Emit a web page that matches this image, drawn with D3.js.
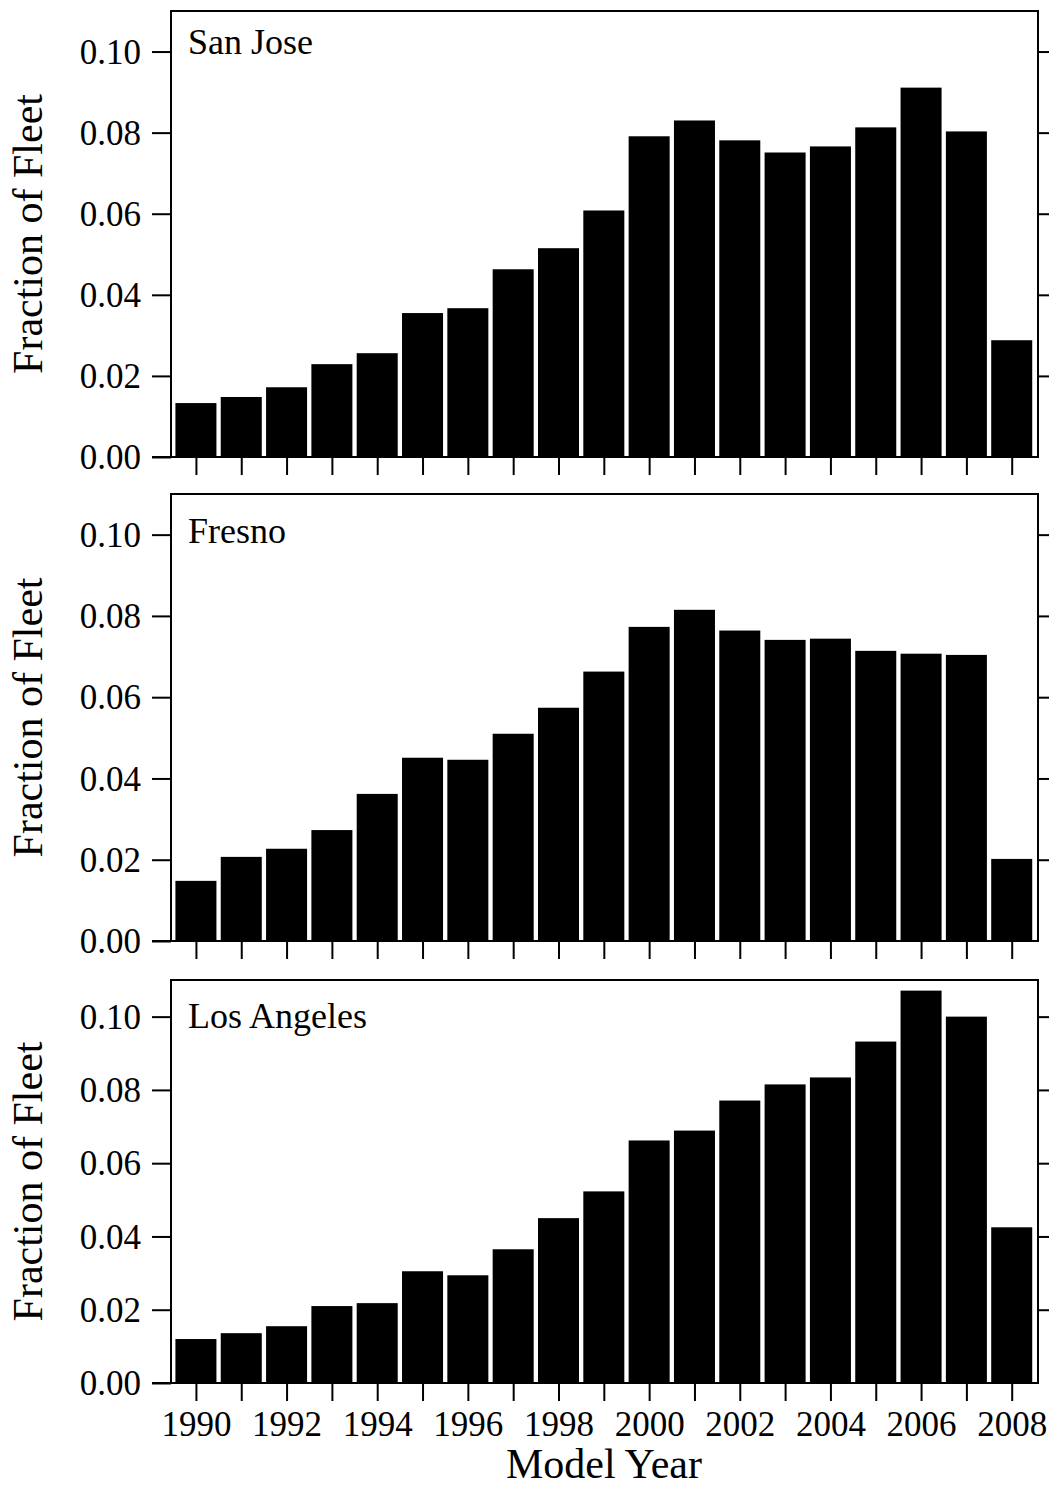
<!DOCTYPE html>
<html>
<head>
<meta charset="utf-8">
<script src="https://cdn.jsdelivr.net/npm/d3@7"></script>
<style>
  html, body { margin: 0; padding: 0; background: #fff; }
  svg { display: block; }
  text { font-family: "Liberation Serif", "Times New Roman", serif; fill: #000; }
</style>
</head>
<body>
<script>
const years = [1990,1991,1992,1993,1994,1995,1996,1997,1998,1999,2000,2001,2002,2003,2004,2005,2006,2007,2008];
const yearLabels = [1990,1992,1994,1996,1998,2000,2002,2004,2006,2008];
const yTicks = [0.00,0.02,0.04,0.06,0.08,0.10];
const panelNames = ["San Jose","Fresno","Los Angeles"];
const sanJose = [0.0133,0.0148,0.0172,0.0229,0.0256,0.0355,0.0367,0.0463,0.0515,0.0608,0.0791,0.0830,0.0781,0.0751,0.0766,0.0813,0.0911,0.0803,0.0288];
const fresno = [0.0148,0.0207,0.0227,0.0273,0.0362,0.0451,0.0446,0.0510,0.0574,0.0663,0.0773,0.0815,0.0764,0.0741,0.0744,0.0714,0.0707,0.0704,0.0202];
const losAngeles = [0.0120,0.0136,0.0155,0.0210,0.0218,0.0305,0.0294,0.0365,0.0450,0.0523,0.0662,0.0689,0.0771,0.0815,0.0834,0.0932,0.1071,0.1000,0.0425];
const xLabel = "Model Year";
const yLabel = "Fraction of Fleet";

const W = 1049, H = 1489;
const svg = d3.select("body").append("svg").attr("width", W).attr("height", H);

const left = 171, right = 1038;
const x = d3.scaleLinear().domain([1989.45, 2008.58]).range([left, right]);
const step = x(1991) - x(1990);
const barW = step * 0.905;

const panels = [
  {name: panelNames[0], data: sanJose, top: 11, bottom: 457, titleY: 54, labels: false},
  {name: panelNames[1], data: fresno, top: 494, bottom: 941, titleY: 543, labels: false},
  {name: panelNames[2], data: losAngeles, top: 980, bottom: 1383, titleY: 1028, labels: true}
];

panels.forEach(p => {
  const y = d3.scaleLinear().domain([0, 0.11]).range([p.bottom, p.top]);
  const g = svg.append("g");

  // bars
  g.selectAll("rect.bar").data(p.data).enter().append("rect")
    .attr("class", "bar")
    .attr("x", (d, i) => x(years[i]) - barW / 2)
    .attr("y", d => y(d))
    .attr("width", barW)
    .attr("height", d => y(0) - y(d))
    .attr("fill", "#000");

  // frame
  g.append("rect")
    .attr("x", left).attr("y", p.top)
    .attr("width", right - left).attr("height", p.bottom - p.top)
    .attr("fill", "none").attr("stroke", "#000").attr("stroke-width", 2);

  // left axis
  const ax = d3.axisLeft(y).tickValues(yTicks).tickFormat(d3.format(".2f"))
    .tickSize(19).tickSizeOuter(0).tickPadding(11);
  const ga = g.append("g").attr("transform", `translate(${left},0)`).call(ax);
  ga.select(".domain").remove();
  ga.selectAll(".tick line").attr("stroke", "#000").attr("stroke-width", 2);
  ga.selectAll(".tick text").attr("font-size", 35).attr("dy", "0.33em")
    .style("font-family", '"Liberation Serif", "Times New Roman", serif');

  // right axis ticks (outward)
  const ar = d3.axisRight(y).tickValues(yTicks.slice(1)).tickFormat("")
    .tickSize(19).tickSizeOuter(0);
  const gr = g.append("g").attr("transform", `translate(${right},0)`).call(ar);
  gr.select(".domain").remove();
  gr.selectAll(".tick line").attr("stroke", "#000").attr("stroke-width", 2);

  // bottom axis ticks
  const ab = d3.axisBottom(x).tickValues(years)
    .tickFormat(d => (p.labels && yearLabels.includes(d)) ? String(d) : "")
    .tickSize(18).tickSizeOuter(0).tickPadding(10);
  const gb = g.append("g").attr("transform", `translate(0,${p.bottom})`).call(ab);
  gb.select(".domain").remove();
  gb.selectAll(".tick line").attr("stroke", "#000").attr("stroke-width", 2);
  gb.selectAll(".tick text").attr("font-size", 35)
    .style("font-family", '"Liberation Serif", "Times New Roman", serif');

  // left 0 tick extension along axis line
  g.append("line").attr("x1", left - 19).attr("x2", left)
    .attr("y1", y(0)).attr("y2", y(0)).attr("stroke", "#000").attr("stroke-width", 2);

  // panel title
  g.append("text").attr("x", 188).attr("y", p.titleY)
    .attr("font-size", 36).text(p.name);

  // y label
  const cy = (p.top + p.bottom) / 2;
  g.append("text")
    .attr("transform", `translate(42,${cy}) rotate(-90)`)
    .attr("text-anchor", "middle")
    .attr("font-size", 42).text(yLabel);
});

svg.append("text").attr("x", 604).attr("y", 1478)
  .attr("text-anchor", "middle").attr("font-size", 42).text(xLabel);
</script>
</body>
</html>
